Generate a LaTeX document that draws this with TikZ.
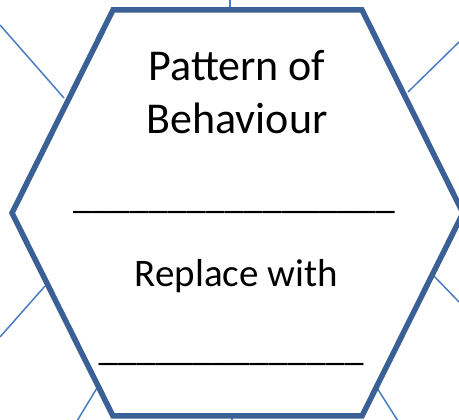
\documentclass[tikz,border=0pt]{standalone}
\usepackage{fontspec}
\setmainfont{Carlito}
\begin{document}
\begin{tikzpicture}[x=1pt,y=-1pt,
  hexline/.style={draw=hexblue,line width=5.5pt,line join=miter},
  spoke/.style={draw=spokeblue,line width=1.5pt},
  label/.style={font=\fontsize{39}{53}\selectfont,align=center,inner sep=0pt,text=black},
  toplabel/.style={font=\fontsize{44}{53}\selectfont,align=center,inner sep=0pt,text=black},
  blank/.style={font=\fontsize{38}{53}\selectfont,inner sep=0pt,text=black}]
\definecolor{hexblue}{HTML}{3A6095}
\definecolor{spokeblue}{HTML}{4A7CC4}
\useasboundingbox (0,0) rectangle (459,420);
\clip (0,0) rectangle (459,420);
% spokes
\coordinate (tlo) at (0,25);    \coordinate (tli) at (64,98);
\coordinate (tro) at (459,42);  \coordinate (tri) at (408,92);
\coordinate (lo1) at (0,337);   \coordinate (li1) at (45,286);
\coordinate (lo2) at (77,421);  \coordinate (li2) at (97,388);
\coordinate (ro1) at (459,302); \coordinate (ri1) at (433,275);
\coordinate (ro2) at (398,421); \coordinate (ri2) at (377,388);
\coordinate (to) at (230,-1);   \coordinate (ti) at (230,10);
\coordinate (bo) at (232,421);  \coordinate (bi) at (232,410);
\draw[spoke] (tlo) -- (tli);
\draw[spoke] (tro) -- (tri);
\draw[spoke] (lo1) -- (li1);
\draw[spoke] (lo2) -- (li2);
\draw[spoke] (ro1) -- (ri1);
\draw[spoke] (ro2) -- (ri2);
\draw[spoke] (to) -- (ti);
\draw[spoke] (bo) -- (bi);
% hexagon
\coordinate (h1) at (113,10);
\coordinate (h2) at (362,10);
\coordinate (h3) at (463,213);
\coordinate (h4) at (362,416);
\coordinate (h5) at (113,416);
\coordinate (h6) at (12,213);
\fill[white] (h1) -- (h2) -- (h3) -- (h4) -- (h5) -- (h6) -- cycle;
\draw[hexline] (h1) -- (h2) -- (h3) -- (h4) -- (h5) -- (h6) -- cycle;
% texts
\node[toplabel,anchor=base] (t1) at (237,134) {Pattern of\\Behaviour};
\node[blank,anchor=base] (u1) at (234,209) {\_\_\_\_\_\_\_\_\_\_\_\_\_\_\_\_\_};
\node[label,anchor=base] (t2) at (236.5,287) {Replace with};
\node[blank,anchor=base] (u2) at (231,360) {\_\_\_\_\_\_\_\_\_\_\_\_\_\_};
\end{tikzpicture}
\end{document}
